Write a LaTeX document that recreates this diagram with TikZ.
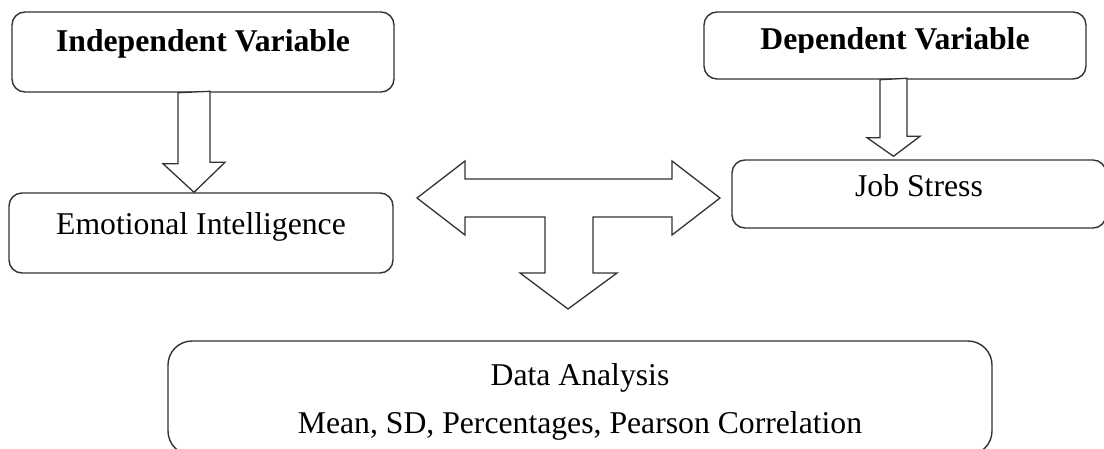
\documentclass[tikz,border=0pt]{standalone}
\usepackage{fontspec}
\setmainfont{Liberation Serif}
\usetikzlibrary{calc}
\begin{document}
\begin{tikzpicture}[x=1pt,y=-1pt,
  box/.style={draw=black!80, line width=1.4pt, rounded corners=13pt, inner sep=0pt, fill=white},
  blockarrow/.style={draw=black!80, line width=1.3pt, fill=white, line join=miter},
  lbl/.style={font=\fontsize{31.7}{38}\selectfont, inner sep=0pt, anchor=base}]
\useasboundingbox (0,0) rectangle (1104,449);

% variable boxes
\node[box, lbl, text height=40pt, text depth=40pt, minimum width=382pt] (ind) at (203,52) {\bfseries Independent Variable};
\node[box, lbl, text height=42pt, text depth=38pt, minimum width=384pt] (ei) at (201,235) {Emotional Intelligence};
\node[box, minimum width=382pt, minimum height=67pt] (dep) at (895,45.5) {};
\begin{scope}
  \clip (700,0) rectangle (1090,53);
  \node[lbl] (deptxt) at (895,50) {\bfseries Dependent Variable};
\end{scope}
\node[box, lbl, text height=37pt, text depth=31pt, minimum width=374pt] (js) at (919,197) {Job Stress};

% analysis box
\node[box, rounded corners=24pt, minimum width=824pt, minimum height=114pt] (da) at (580,398) {};
\node[lbl] (dat1) at (da.center |- 0,385) {Data Analysis};
\node[lbl] (dat2) at (da.center |- 0,433) {Mean, SD, Percentages, Pearson Correlation};

% block arrows
\coordinate (ax) at (194,0);
\draw[blockarrow] (ax |- ind.south) ++(-16,0) -- ++(0,71) -- ++(-15,0) -- (ax |- ei.north)
  -- ++(31,-30) -- ++(-15,0) -- ++(0,-71) -- cycle;

\coordinate (bx) at (893.5,0);
\draw[blockarrow] (bx |- dep.south) ++(-13.5,0) -- ++(0,58) -- ++(-13,0) -- ($(bx |- js.north)+(0,-3)$)
  -- ++(26.5,-20) -- ++(-13,0) -- ++(0,-58) -- cycle;

% three-way arrow between the variables and the analysis
\coordinate (tc) at (568.5,198);
\draw[blockarrow] (tc) ++(-151.5,0) -- ++(48,-37) -- ++(0,18) -- ++(207,0) -- ++(0,-18)
  -- ++(48,37) -- ++(-48,37) -- ++(0,-18) -- ++(-79,0) -- ++(0,56) -- ++(24,0)
  -- ++(-49,36) -- ++(-48,-36) -- ++(25,0) -- ++(0,-56) -- ++(-80,0) -- ++(0,18) -- cycle;
\end{tikzpicture}
\end{document}
